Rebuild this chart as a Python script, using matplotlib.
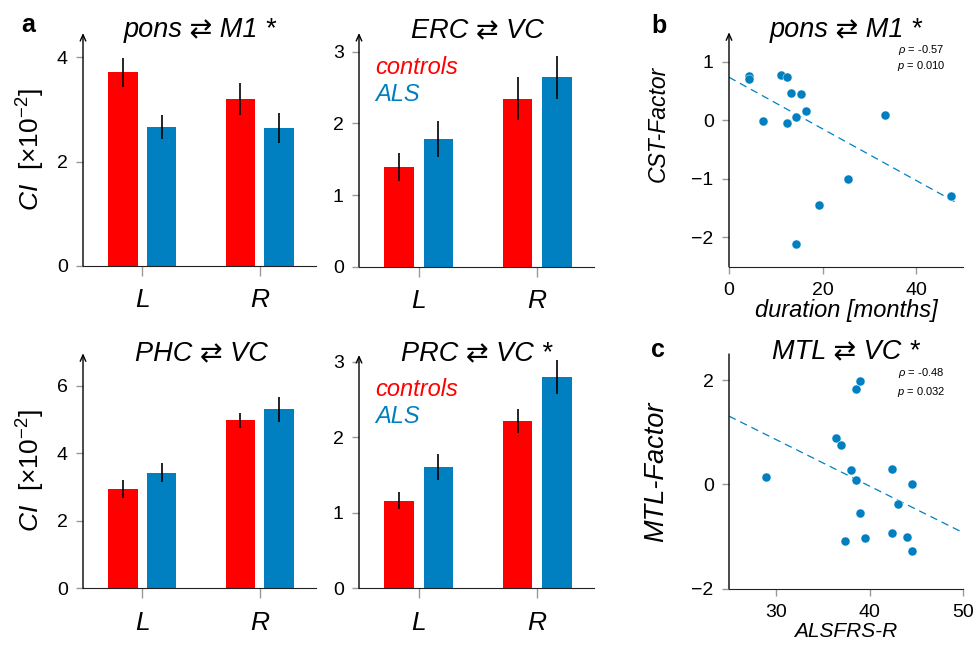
import numpy as np
import matplotlib
matplotlib.use('Agg')
import matplotlib.pyplot as plt

plt.rcParams['font.family'] = ['Liberation Sans', 'DejaVu Sans']
plt.rcParams['mathtext.fontset'] = 'custom'
plt.rcParams['mathtext.rm'] = 'Liberation Sans'
plt.rcParams['mathtext.it'] = 'Liberation Sans:italic'

red = '#ff0000'
blue = '#0080c0'

# bar panels: controls / ALS, left and right hemisphere
sides = ['L', 'R']
titles = ['pons \u21c4 M1 *', 'ERC \u21c4 VC', 'PHC \u21c4 VC', 'PRC \u21c4 VC *']
ctrl_mean = [[3.71, 3.20], [1.39, 2.34], [2.94, 4.97], [1.16, 2.22]]
ctrl_err = [[0.28, 0.31], [0.20, 0.30], [0.26, 0.21], [0.11, 0.16]]
als_mean = [[2.66, 2.64], [1.78, 2.64], [3.42, 5.31], [1.61, 2.80]]
als_err = [[0.23, 0.29], [0.25, 0.30], [0.28, 0.37], [0.17, 0.23]]
bar_ylim = [4.46, 3.26, 6.96, 3.09]
bar_yticks = [[0, 2, 4], [0, 1, 2, 3], [0, 2, 4, 6], [0, 1, 2, 3]]

# scatter b: duration vs CST-Factor
dur = [4.3, 4.3, 11.2, 12.3, 13.3, 15.3, 16.4, 14.3, 12.3, 7.3, 33.3, 25.3, 19.3, 14.3, 47.4]
cst = [0.75, 0.70, 0.77, 0.73, 0.47, 0.455, 0.16, 0.06, -0.045, -0.01, 0.09, -1.0, -1.45, -2.11, -1.30]
fit_b = [-0.0441, 0.733]

# scatter c: ALSFRS-R vs MTL-Factor
alsfrs = [28.9, 36.4, 37.0, 38.0, 38.5, 38.5, 39.0, 42.4, 44.5, 43.0, 39.0, 37.4, 39.5, 42.4, 44.0, 44.5]
mtl = [0.15, 0.89, 0.75, 0.27, 0.08, 1.83, 1.99, 0.29, 0.01, -0.38, -0.55, -1.09, -1.02, -0.93, -1.0, -1.28]
fit_c = [-0.0894, 3.543]

W, H = 976, 646
fig = plt.figure(figsize=(W / 100, H / 100), dpi=100)


def px_axes(l, t, r, b):
    return fig.add_axes([l / W, 1 - b / H, (r - l) / W, (b - t) / H])


def style(ax, arrow=True):
    ax.spines['top'].set_visible(False)
    ax.spines['right'].set_visible(False)
    ax.spines['left'].set_visible(False)
    ax.spines['bottom'].set_color('#222222')
    ax.annotate('', xy=(0, 1), xytext=(0, 0), xycoords='axes fraction',
                arrowprops=dict(arrowstyle='->,head_length=0.45,head_width=0.2' if arrow else '-',
                                lw=1, color='black', shrinkA=0, shrinkB=0))
    ax.tick_params(axis='y', direction='out', length=5, width=1, color='#999999',
                   labelsize=14, pad=6)
    ax.tick_params(axis='x', direction='out', length=7, width=1, color='#999999')


bar_boxes = [(83, 33, 316, 266), (359, 33, 594, 266.7),
             (83, 353.3, 316, 588.3), (359, 355, 594, 588.3)]
title_pos = [(200, 37), (477, 37.5), (201, 360), (476, 360)]
x = np.array([1, 2])
off = 0.165
w = 0.25

for i in range(4):
    ax = px_axes(*bar_boxes[i])
    ax.bar(x - off, ctrl_mean[i], w, color=red)
    ax.bar(x + off, als_mean[i], w, color=blue)
    ax.errorbar(x - off, ctrl_mean[i], yerr=ctrl_err[i], fmt='none', ecolor='black', elinewidth=1.2)
    ax.errorbar(x + off, als_mean[i], yerr=als_err[i], fmt='none', ecolor='black', elinewidth=1.2)
    ax.set_xlim(0.495, 2.48)
    ax.set_ylim(0, bar_ylim[i])
    ax.set_yticks(bar_yticks[i])
    ax.set_xticks(x)
    ax.set_xticklabels(sides, fontsize=19, style='italic')
    style(ax)
    ax.tick_params(axis='x', pad=9)
    fig.text(title_pos[i][0] / W, 1 - title_pos[i][1] / H, titles[i], fontsize=19.5,
             style='italic', ha='center', va='baseline')
    if i % 2 == 0:
        ax.set_ylabel(r'$\mathit{CI}\ \ [\times10^{-2}]$', fontsize=19)
        ax.yaxis.set_label_coords(-0.155, 0.5)
    else:
        ax.text(0.068, 0.825, 'controls', color=red, fontsize=17, style='italic',
                transform=ax.transAxes, va='baseline')
        ax.text(0.068, 0.709, 'ALS', color=blue, fontsize=17, style='italic',
                transform=ax.transAxes, va='baseline')

# panel b
axb = px_axes(729, 32.3, 963.3, 266.7)
axb.scatter(dur, cst, s=42, color=blue, edgecolors='white', linewidths=0.3, zorder=3)
xl = np.array([0, 48.7])
axb.plot(xl, fit_b[0] * xl + fit_b[1], color=blue, lw=0.9, dashes=(6, 4))
axb.set_xlim(0, 50)
axb.set_ylim(-2.5, 1.5)
axb.set_xticks([0, 20, 40])
axb.set_yticks([-2, -1, 0, 1])
style(axb)
axb.tick_params(axis='x', length=5, labelsize=14, pad=6)
axb.set_xlabel('duration [months]', fontsize=17, style='italic', labelpad=0)
axb.set_ylabel('CST-Factor', fontsize=16.5, style='italic')
axb.yaxis.set_label_coords(-0.255, 0.61)
axb.text(0.72, 0.925, r'$\rho$ = -0.57', fontsize=8, transform=axb.transAxes, va='center')
axb.text(0.718, 0.857, r'$p$ = 0.010', fontsize=8, transform=axb.transAxes, va='center')
fig.text(846 / W, 1 - 37 / H, 'pons \u21c4 M1 *', fontsize=19.5, style='italic',
         ha='center', va='baseline')

# panel c
axc = px_axes(729, 354, 963.3, 588.7)
axc.scatter(alsfrs, mtl, s=42, color=blue, edgecolors='white', linewidths=0.3, zorder=3)
xl = np.array([25, 50])
axc.plot(xl, fit_c[0] * xl + fit_c[1], color=blue, lw=0.9, dashes=(6, 4))
axc.set_xlim(25, 50)
axc.set_ylim(-2, 2.5)
axc.set_xticks([30, 40, 50])
axc.set_yticks([-2, 0, 2])
style(axc, arrow=False)
axc.tick_params(axis='x', length=5, labelsize=14, pad=6)
axc.set_xlabel('ALSFRS-R', fontsize=15, style='italic', labelpad=1)
axc.set_ylabel('MTL-Factor', fontsize=19.5, style='italic')
axc.yaxis.set_label_coords(-0.255, 0.5)
axc.text(0.72, 0.92, r'$\rho$ = -0.48', fontsize=8, transform=axc.transAxes, va='center')
axc.text(0.718, 0.84, r'$p$ = 0.032', fontsize=8, transform=axc.transAxes, va='center')
fig.text(846 / W, 1 - 358 / H, 'MTL \u21c4 VC *', fontsize=19.5, style='italic',
         ha='center', va='baseline')

# panel letters
fig.text(21 / W, 1 - 32 / H, 'a', fontsize=18, weight='bold', va='baseline')
fig.text(651 / W, 1 - 33 / H, 'b', fontsize=18, weight='bold', va='baseline')
fig.text(651 / W, 1 - 357 / H, 'c', fontsize=18, weight='bold', va='baseline')

plt.savefig('out.png', dpi=100)
